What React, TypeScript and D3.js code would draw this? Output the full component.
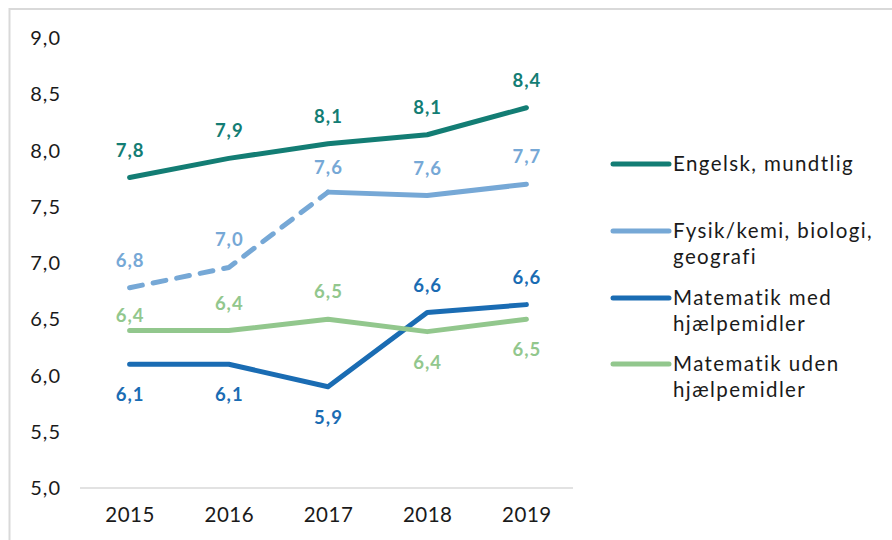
import React from "react";
import * as d3 from "d3";

const years = ["2015", "2016", "2017", "2018", "2019"];
const engelsk = [7.76, 7.93, 8.06, 8.14, 8.38];
const fysik = [6.78, 6.96, 7.63, 7.6, 7.7];
const matMed = [6.1, 6.1, 5.9, 6.56, 6.63];
const matUden = [6.4, 6.4, 6.5, 6.39, 6.5];
const yTicks = [5, 5.5, 6, 6.5, 7, 7.5, 8, 8.5, 9];

const series = [
  { name: ["Engelsk, mundtlig"], values: engelsk, color: "#137d74", dashedUntil: 0 },
  { name: ["Fysik/kemi, biologi,", "geografi"], values: fysik, color: "#76a8d6", dashedUntil: 2 },
  { name: ["Matematik med", "hjælpemidler"], values: matMed, color: "#1a6cb3", dashedUntil: 0 },
  { name: ["Matematik uden", "hjælpemidler"], values: matUden, color: "#92c78d", dashedUntil: 0 },
];

// label placement per series/point: pixel offset of baseline from the point
const labelOffsets = [
  [-21, -21, -21, -21, -21],
  [-21, -22, -18, -21, -21],
  [37, 37, 37, -21, -21],
  [-9, -21, -21, 37, 37],
];

const legendY = [164, 231, 298, 364];

const fmt = (v: number) => d3.format(".1f")(v).replace(".", ",");
const font = "Lato, 'Open Sans', sans-serif";

export default function App() {
  const width = 892;
  const height = 540;
  const x = d3.scaleBand().domain(years).range([80, 576]).padding(0);
  const y = d3.scaleLinear().domain([5, 9]).range([488, 38]);
  const cx = (yr: string) => (x(yr) as number) + x.bandwidth() / 2;

  const line = d3
    .line<[string, number]>()
    .x((d) => cx(d[0]))
    .y((d) => y(d[1]));

  return (
    <svg
      width={width}
      height={height}
      style={{ position: "absolute", left: 0, top: 0, background: "#fff" }}
      fontFamily={font}
    >
      <rect x={9.5} y={9} width={width} height={height} fill="none" stroke="#d9d9d9" strokeWidth={2} />

      {yTicks.map((t) => (
        <text key={t} x={61} y={y(t)} dy="0.35em" textAnchor="end" fontSize={20} letterSpacing={1} fill="#1a1a1a">
          {fmt(t)}
        </text>
      ))}

      <line x1={80} x2={573} y1={488} y2={488} stroke="#d9d9d9" strokeWidth={1.5} />

      {years.map((yr) => (
        <text key={yr} x={cx(yr) + 0.5} y={522} textAnchor="middle" fontSize={20.5} letterSpacing={0.5} fill="#1a1a1a">
          {yr}
        </text>
      ))}

      {series.map((s, si) => {
        const pts = years.map((yr, i) => [yr, s.values[i]] as [string, number]);
        const dashed = s.dashedUntil > 0 ? pts.slice(0, s.dashedUntil + 1) : [];
        const solid = pts.slice(s.dashedUntil);
        return (
          <g key={si}>
            {dashed.length > 0 && (
              <path
                d={line(dashed) || ""}
                fill="none"
                stroke={s.color}
                strokeWidth={5}
                strokeDasharray="13 11"
                strokeLinecap="round"
                strokeLinejoin="round"
              />
            )}
            <path
              d={line(solid) || ""}
              fill="none"
              stroke={s.color}
              strokeWidth={5}
              strokeLinecap="round"
              strokeLinejoin="round"
            />
          </g>
        );
      })}

      {series.map((s, si) =>
        years.map((yr, i) => (
          <text
            key={si + "-" + yr}
            x={cx(yr) + 0.5}
            y={y(s.values[i]) + labelOffsets[si][i]}
            textAnchor="middle"
            fontSize={18.5}
            fontWeight={700}
            letterSpacing={1}
            fill={s.color}
          >
            {fmt(s.values[i])}
          </text>
        ))
      )}

      {series.map((s, si) => (
        <g key={"leg" + si} transform={`translate(0,${legendY[si]})`}>
          <line x1={613} x2={669} y1={0} y2={0} stroke={s.color} strokeWidth={5} strokeLinecap="round" />
          {s.name.map((n, li) => (
            <text key={li} x={673} y={li * 26} dy="0.35em" fontSize={20.5} letterSpacing={1.4} fill="#1a1a1a">
              {n}
            </text>
          ))}
        </g>
      ))}
    </svg>
  );
}
